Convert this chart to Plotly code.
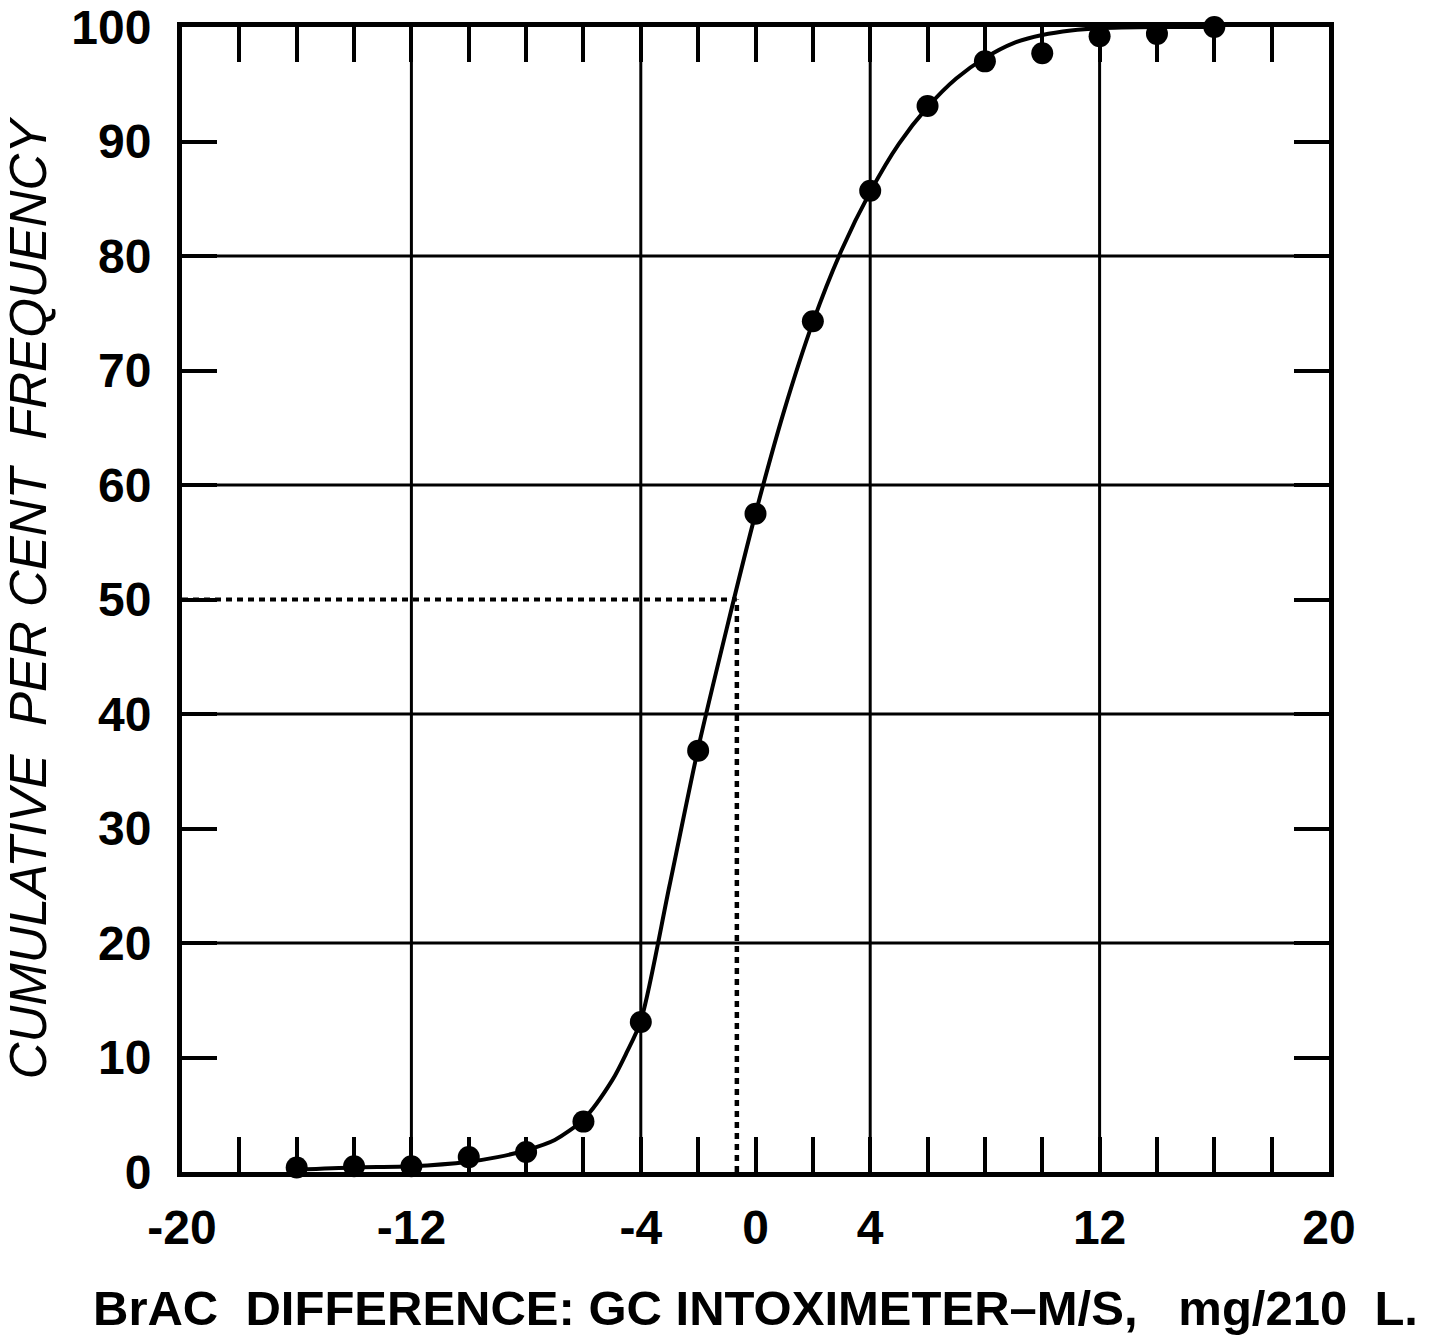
import plotly.graph_objects as go

# Observed data points (BrAC difference vs cumulative % frequency)
point_x = [-16, -14, -12, -10, -8, -6, -4, -2, 0, 2, 4, 6, 8, 10, 12, 14, 16]
point_y = [0.4, 0.5, 0.5, 1.3, 1.75, 4.4, 13.1, 36.8, 57.5, 74.3, 85.7, 93.1, 97.0, 97.7, 99.2, 99.4, 100.0]

# Hand-drawn smooth curve
curve_x = [-16, -14, -12, -10, -9, -8, -7, -6, -5, -4.5, -4, -3, -2, -1, 0, 1, 2, 3, 4, 5, 6, 7, 8, 9, 10, 11, 12, 14, 16]
curve_y = [0.2, 0.4, 0.5, 0.9, 1.3, 1.9, 2.8, 4.6, 8.0, 10.4, 13.2, 25.0, 37.0, 47.5, 57.5, 66.5, 74.2, 80.5, 85.6,
           89.8, 93.0, 95.5, 97.3, 98.6, 99.3, 99.7, 99.9, 100.0, 100.0]

# Median (50 %) read-off
median_x = -0.65
median_y = 50

x_range = [-20, 20]
y_range = [0, 100]
x_tick_vals = [-20, -12, -4, 0, 4, 12, 20]
x_tick_text = ["-20", "-12", "-4", "0", "4", "12", "20"]
x_minor_vals = [-18, -16, -14, -10, -8, -6, -2, 2, 6, 8, 10, 14, 16, 18]
x_grid_vals = [-12, -4, 4, 12]
y_tick_vals = [0, 10, 20, 30, 40, 50, 60, 70, 80, 90, 100]
y_grid_vals = [20, 40, 60, 80]

x_title = "BrAC  DIFFERENCE: GC INTOXIMETER\u2013M/S,   mg/210  L."
y_title = "CUMULATIVE  PER CENT  FREQUENCY"

FONT = "Liberation Sans"

fig = go.Figure()

# reference lines (median)
fig.add_trace(go.Scatter(x=[x_range[0], median_x], y=[median_y, median_y], mode="lines",
                         line=dict(color="black", width=4, dash="6px,5px"), hoverinfo="skip"))
fig.add_trace(go.Scatter(x=[median_x, median_x], y=[y_range[0], median_y], mode="lines",
                         line=dict(color="black", width=4.5, dash="6px,5px"), hoverinfo="skip"))

fig.add_trace(go.Scatter(x=curve_x, y=curve_y, mode="lines", line_shape="spline",
                         line=dict(color="black", width=4, smoothing=0.8), hoverinfo="skip"))
fig.add_trace(go.Scatter(x=point_x, y=point_y, mode="markers",
                         marker=dict(color="black", size=22, line=dict(width=0)), cliponaxis=False))

shapes = []
for gx in x_grid_vals:
    shapes.append(dict(type="line", xref="x", yref="paper", x0=gx, x1=gx, y0=0, y1=1,
                       line=dict(color="black", width=3), layer="below"))
for gy in y_grid_vals:
    shapes.append(dict(type="line", xref="paper", yref="y", x0=0, x1=1, y0=gy, y1=gy,
                       line=dict(color="black", width=3), layer="below"))

fig.update_layout(
    width=1431, height=1335,
    margin=dict(l=182, r=102, t=27, b=163, autoexpand=False),
    paper_bgcolor="white", plot_bgcolor="white",
    showlegend=False,
    shapes=shapes,
    font=dict(family=FONT, color="black"),
    xaxis=dict(range=x_range, tickmode="array", tickvals=x_tick_vals, ticktext=x_tick_text,
               ticks="inside", ticklen=35, tickwidth=4, tickcolor="black",
               minor=dict(tickmode="array", tickvals=x_minor_vals, ticks="inside", ticklen=35,
                          tickwidth=4, tickcolor="black", showgrid=False),
               showgrid=False, zeroline=False, showline=True, linewidth=5, linecolor="black",
               mirror="allticks", automargin=False,
               tickfont=dict(size=48, family=FONT, weight="bold"), ticklabelstandoff=9,
               title=dict(text=x_title, font=dict(size=49, family=FONT, weight="bold"), standoff=44)),
    yaxis=dict(range=y_range, tickmode="array", tickvals=y_tick_vals,
               ticks="inside", ticklen=35, tickwidth=4, tickcolor="black",
               showgrid=False, zeroline=False, showline=True, linewidth=5, linecolor="black",
               mirror="allticks", automargin=False,
               tickfont=dict(size=48, family=FONT, weight="bold"), ticklabelstandoff=16,
               title=dict(text=y_title, font=dict(size=51, family=FONT, style="italic"), standoff=30)),
)

fig.write_html("out.html")
